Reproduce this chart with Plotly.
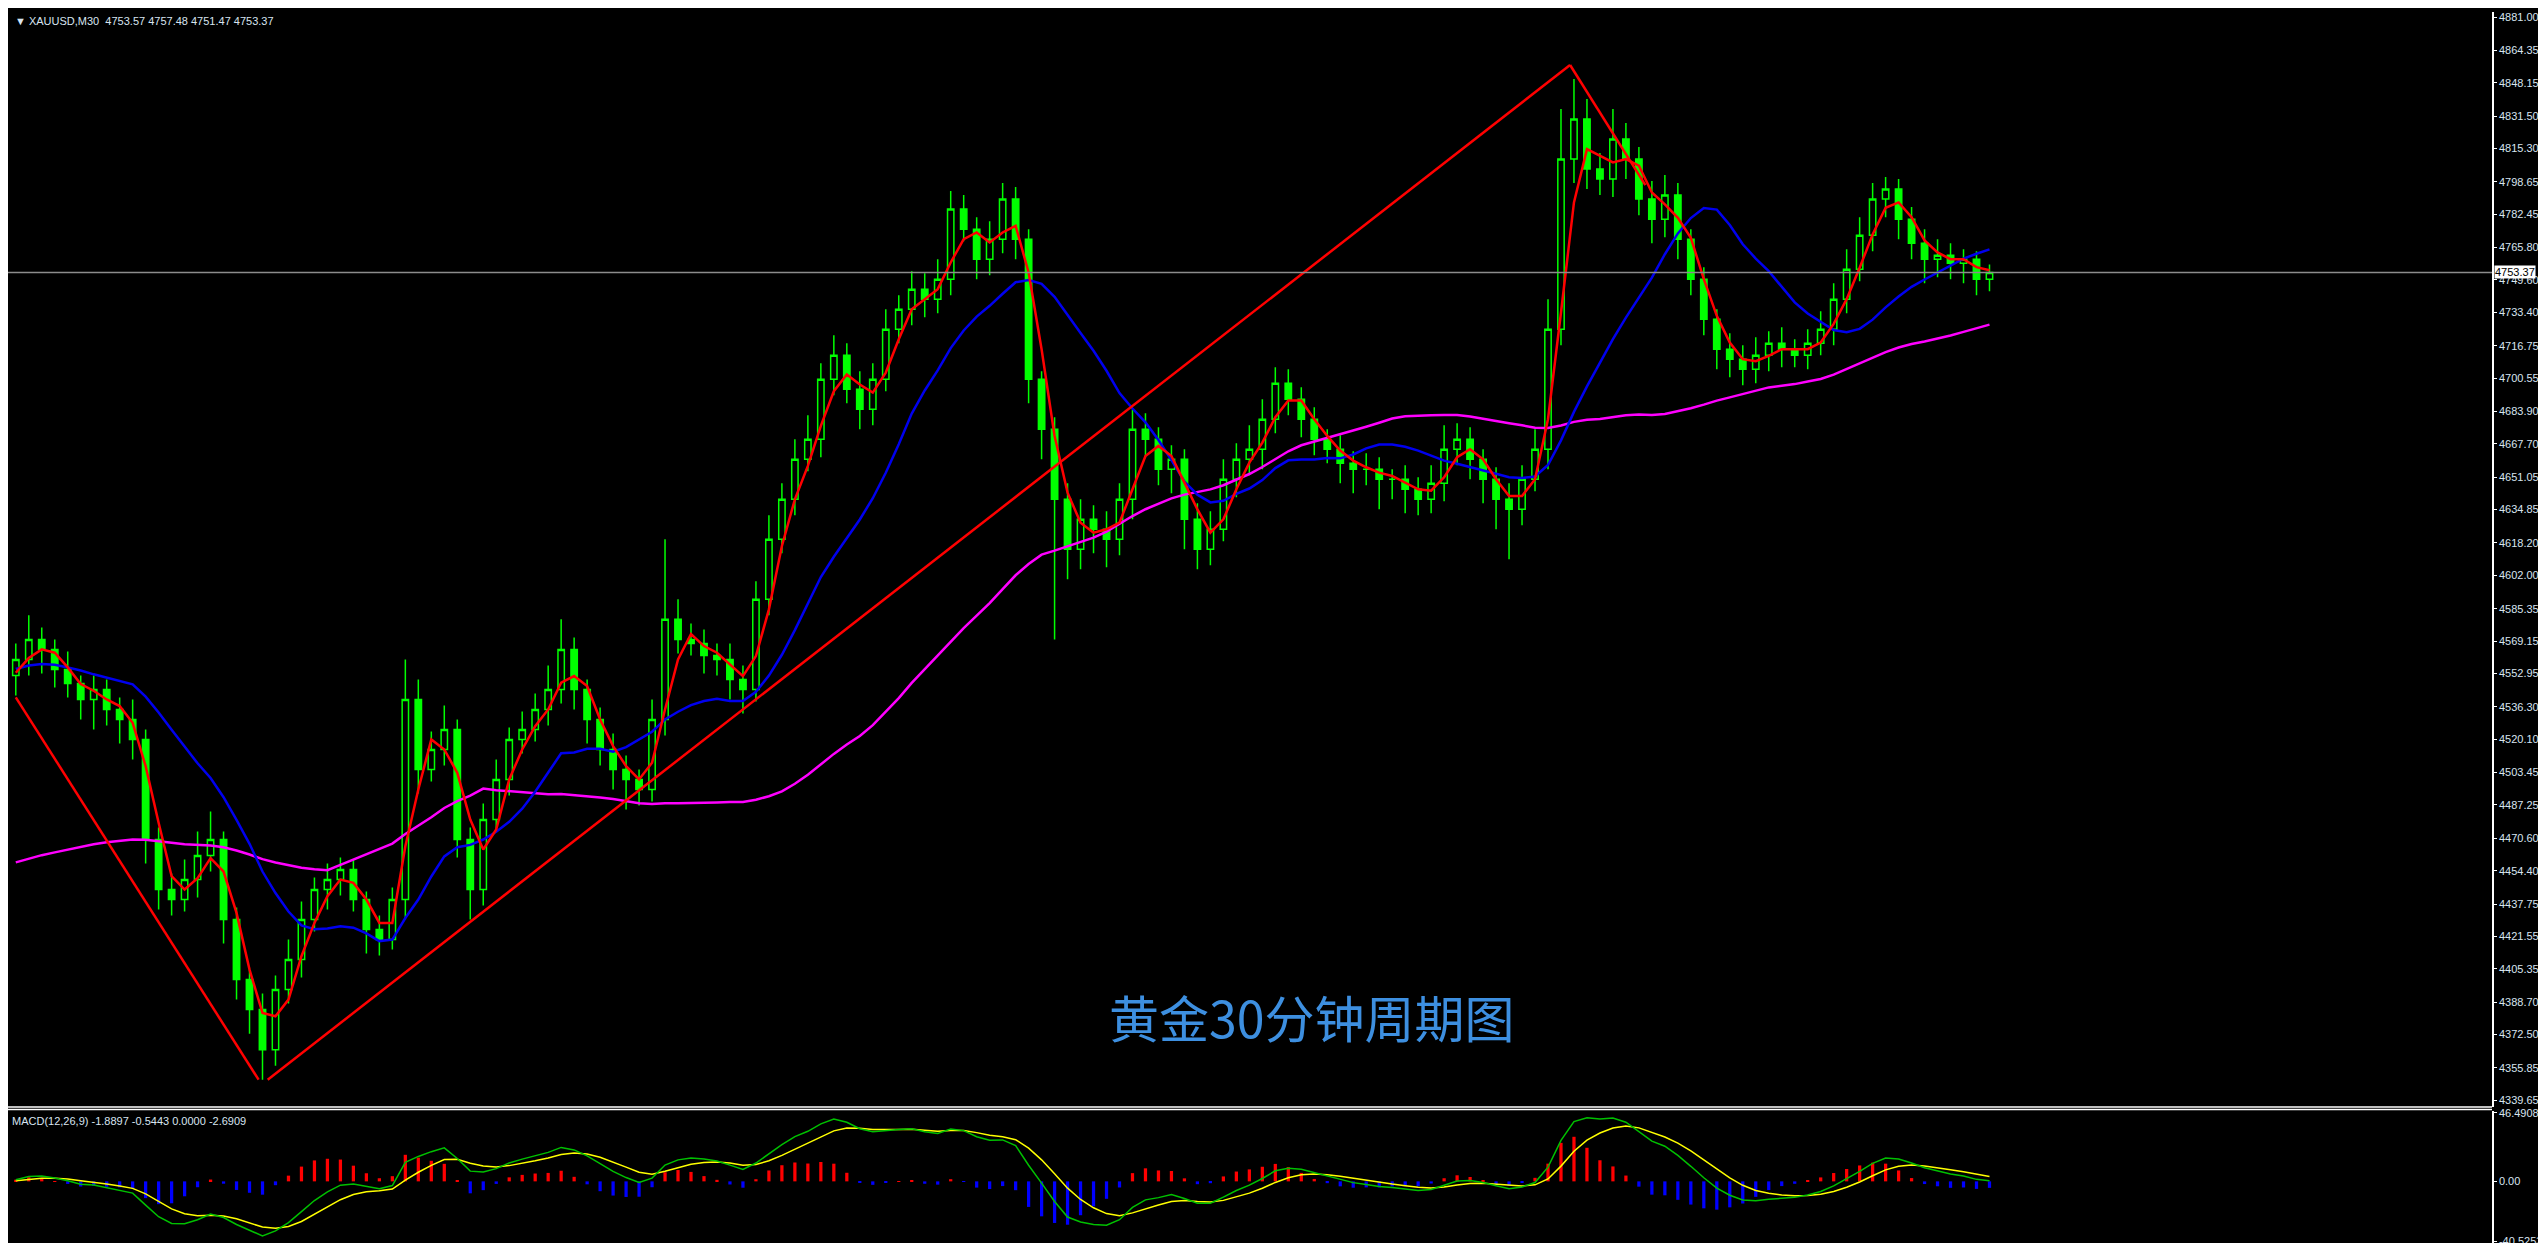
import plotly.graph_objects as go
import pandas as pd
import numpy as np

# ---------------- data ----------------
history_closes = [4470,4475,4480,4485,4478,4472,4480,4488,4492,4485,
                  4480,4475,4482,4490,4485,4478,4472,4480,4486,4482,
                  4478,4484,4488,4480,4476,
                  4320,4310,4300,4295,4290,4300,4305,4298,4292,4300,4308,4302,
                  4540,4548,4555,4560,4565,4560,4570,4555,4550,4545,4550,4548,4552]

closes = [4560,4570,4565,4555,4548,4540,4545,4535,4530,4520,
          4470,4445,4440,4450,4462,4470,4430,4400,4385,4365,
          4395,4410,4430,4445,4450,4455,4440,4425,4420,4440,
          4540,4505,4515,4525,4470,4445,4480,4500,4520,4525,
          4535,4545,4565,4545,4530,4515,4505,4500,4495,4530,
          4580,4570,4568,4562,4560,4550,4545,4590,4620,4640,
          4660,4670,4700,4712,4695,4685,4700,4725,4735,4745,
          4740,4750,4785,4775,4760,4770,4790,4770,4700,4675,
          4640,4615,4630,4625,4620,4640,4675,4670,4655,4660,
          4630,4615,4625,4650,4660,4665,4680,4698,4690,4680,
          4670,4665,4658,4655,4655,4650,4650,4645,4640,4648,
          4665,4670,4660,4650,4640,4635,4650,4665,4725,4810,
          4830,4805,4800,4820,4810,4790,4780,4792,4770,4750,
          4730,4715,4710,4705,4712,4718,4715,4712,4718,4725,
          4740,4755,4772,4790,4795,4780,4768,4760,4762,4758,
          4760,4750,4753.37]

upper_wick = [8,12,6,5,9,4,7,5,6,10,
              5,6,8,10,12,14,4,6,5,8,
              7,10,9,6,8,6,5,4,7,6,
              20,10,9,12,5,6,8,10,6,9,
              8,12,15,6,5,6,8,7,5,10,
              40,10,8,7,6,8,7,9,12,8,
              10,12,8,10,6,9,8,10,7,9,
              8,10,9,7,6,9,8,6,5,4,
              6,8,10,7,9,8,10,8,6,7,
              5,8,9,10,8,12,10,8,7,6,
              6,5,7,6,8,6,5,7,6,9,
              12,8,6,5,6,8,7,10,15,25,
              20,10,8,15,8,6,9,10,6,5,
              6,5,8,7,9,6,8,5,7,9,
              8,10,9,8,6,5,6,7,8,6,
              5,4,4]

lower_wick = [10,8,12,9,7,10,15,8,12,10,
              12,10,8,6,9,8,12,10,12,15,
              8,7,9,6,10,8,6,12,8,5,
              10,12,6,8,9,15,8,6,8,7,
              6,8,7,10,12,8,10,15,8,6,
              8,7,6,9,8,10,12,6,8,7,
              8,6,9,8,7,10,8,6,7,8,
              9,7,8,6,10,8,7,10,12,15,
              70,15,10,12,14,8,10,9,8,12,
              15,10,8,6,9,8,10,7,8,9,
              8,7,10,12,8,15,10,12,8,7,
              9,8,10,12,15,25,8,6,10,8,
              12,10,8,9,10,8,12,9,10,8,
              8,10,9,8,7,8,9,6,7,6,
              8,7,6,8,9,10,8,12,9,8,
              10,8,6]

# trendline anchor points (bar index, price)
trend_x = [0, 18.7, 19.4, 119.7, 125.5]
trend_y = [4541, 4350, 4350, 4857, 4797]

price_ticks = [4881.00,4864.35,4848.15,4831.50,4815.30,4798.65,4782.45,4765.80,4749.60,
               4733.40,4716.75,4700.55,4683.90,4667.70,4651.05,4634.85,4618.20,4602.00,
               4585.35,4569.15,4552.95,4536.30,4520.10,4503.45,4487.25,4470.60,4454.40,
               4437.75,4421.55,4405.35,4388.70,4372.50,4355.85,4339.65]
macd_ticks = [46.4908, 0.0, -40.5253]
macd_tick_text = ["46.4908", "0.00", "-40.5253"]
last_price = 4753.37
header = "XAUUSD,M30  4753.57 4757.48 4751.47 4753.37"
macd_header = "MACD(12,26,9) -1.8897 -0.5443 0.0000 -2.6909"
title_cn = "黄金30分钟周期图"

# ---------------- derived ----------------
nh = len(history_closes)
allc = pd.Series(history_closes + closes, dtype=float)
n = len(closes)
x = np.arange(n)
opens = [history_closes[-1]] + closes[:-1]
highs = [max(o, c) + u for o, c, u in zip(opens, closes, upper_wick)]
lows = [min(o, c) - l for o, c, l in zip(opens, closes, lower_wick)]

ma_red = allc.rolling(3).mean().iloc[nh:].values
ma_blue = allc.rolling(13).mean().iloc[nh:].values
ma_mag = allc.rolling(50).mean().iloc[nh:].values
vis = pd.Series([history_closes[-1]] * 30 + closes, dtype=float)
ema_f = vis.ewm(span=6, adjust=False).mean()
ema_s = vis.ewm(span=13, adjust=False).mean()
macd = (ema_f - ema_s)
sig = macd.ewm(span=5, adjust=False).mean()
hist = (macd - sig)
macd_v = macd.iloc[30:].values
sig_v = sig.iloc[30:].values
hist_v = hist.iloc[30:].values

fig = go.Figure()
fig.add_trace(go.Candlestick(x=x, open=opens, high=highs, low=lows, close=closes,
                             increasing=dict(line=dict(color="#00ff00", width=1.5), fillcolor="#000000"),
                             decreasing=dict(line=dict(color="#00ff00", width=1.5), fillcolor="#00ff00"),
                             whiskerwidth=0, xaxis="x", yaxis="y", showlegend=False))
fig.add_trace(go.Scatter(x=x, y=ma_mag, mode="lines", line=dict(color="#ff00ff", width=2.5), showlegend=False))
fig.add_trace(go.Scatter(x=x, y=ma_blue, mode="lines", line=dict(color="#0000ee", width=2.5), showlegend=False))
fig.add_trace(go.Scatter(x=x, y=ma_red, mode="lines", line=dict(color="#ff0000", width=2.5), showlegend=False))
for k in (0, 2, 3):
    fig.add_trace(go.Scatter(x=trend_x[k:k+2], y=trend_y[k:k+2], mode="lines",
                             line=dict(color="#ff0000", width=2.5), showlegend=False))

hcol = ["#ff0000" if v >= 0 else "#0000ff" for v in hist_v]
fig.add_trace(go.Bar(x=x, y=hist_v * 1.5, marker=dict(color=hcol, line=dict(width=0)), width=0.25,
                     xaxis="x2", yaxis="y2", showlegend=False))
fig.add_trace(go.Scatter(x=x, y=sig_v, mode="lines", line=dict(color="#ffff00", width=1.5),
                         xaxis="x2", yaxis="y2", showlegend=False))
fig.add_trace(go.Scatter(x=x, y=macd_v, mode="lines", line=dict(color="#00c000", width=1.5),
                         xaxis="x2", yaxis="y2", showlegend=False))

xr = [-0.6, 190.7]
fig.update_layout(
    width=2546, height=1243, paper_bgcolor="#000000", plot_bgcolor="#000000",
    margin=dict(l=0, r=62, t=0, b=0), showlegend=False,
    font=dict(family="Liberation Sans", color="#d8e4f0", size=12),
    xaxis=dict(domain=[0, 1], range=xr, showgrid=False, zeroline=False, showticklabels=False,
               rangeslider=dict(visible=False), anchor="y"),
    xaxis2=dict(domain=[0, 1], range=xr, showgrid=False, zeroline=False, showticklabels=False,
                anchor="y2", matches="x"),
    yaxis=dict(domain=[0.116, 1], range=[4336.2, 4883.5], side="right", showgrid=False, zeroline=False,
               tickvals=price_ticks, ticktext=[f"{v:.2f}" for v in price_ticks],
               ticks="outside", ticklen=3, tickcolor="#ffffff", showline=True, linecolor="#ffffff",
               linewidth=1.5, tickfont=dict(size=11, color="#d8e4f0")),
    yaxis2=dict(domain=[0, 0.113], range=[-47.3, 47.8], side="right", showgrid=False, zeroline=False,
                tickvals=macd_ticks, ticktext=macd_tick_text, ticks="outside", ticklen=3,
                tickcolor="#ffffff", showline=True, linecolor="#ffffff", linewidth=1.5,
                tickfont=dict(size=11, color="#d8e4f0")),
)
fig.add_shape(type="line", xref="x", yref="y", x0=xr[0], x1=xr[1], y0=last_price, y1=last_price,
              line=dict(color="#8c8c8c", width=1.5))
fig.add_annotation(xref="paper", yref="y", x=1.001, y=last_price, text=f"{last_price:.2f}",
                   showarrow=False, xanchor="left", bgcolor="#ffffff", borderpad=0,
                   font=dict(color="#000000", size=11))
for yy in (0.1143, 0.1163):
    fig.add_shape(type="line", xref="paper", yref="paper", x0=0, x1=1, y0=yy, y1=yy,
                  line=dict(color="#ffffff", width=1.5))
fig.add_annotation(xref="paper", yref="paper", x=0.002, y=0.999, xanchor="left", yanchor="top",
                   text="▼ " + header, showarrow=False, font=dict(size=11, color="#d8e4f0"))
fig.add_annotation(xref="paper", yref="paper", x=0.001, y=0.111, xanchor="left", yanchor="top",
                   text=macd_header, showarrow=False, font=dict(size=11, color="#d8e4f0"))
fig.add_annotation(xref="paper", yref="paper", x=0.525, y=0.19, xanchor="center", yanchor="middle",
                   text=title_cn, showarrow=False,
                   font=dict(family="Noto Sans CJK SC", size=50, color="#3d8fe0"))
fig.write_html("out.html")
